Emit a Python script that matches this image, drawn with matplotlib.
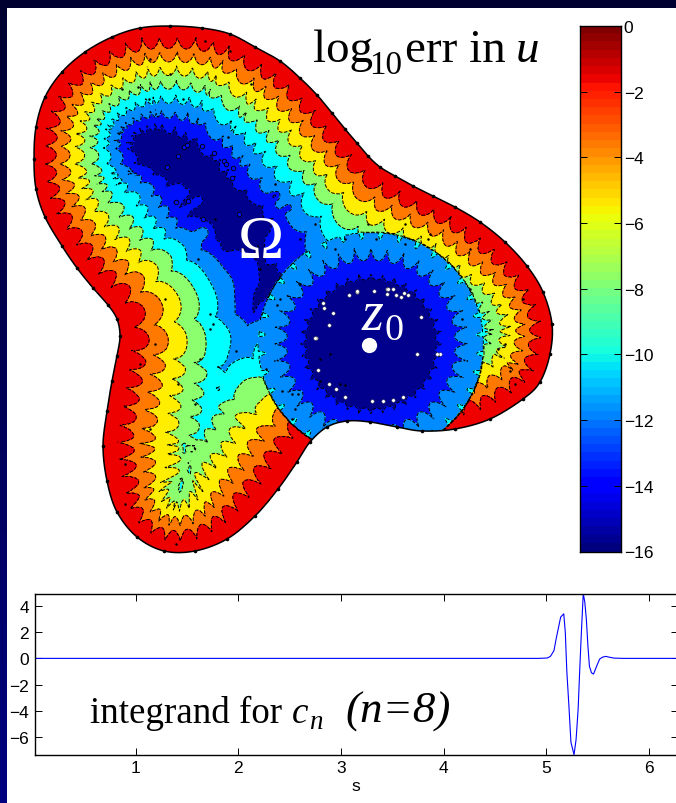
import numpy as np
import matplotlib
matplotlib.use("Agg")
import matplotlib.pyplot as plt
from matplotlib.colors import ListedColormap, BoundaryNorm
from matplotlib.patches import Rectangle
from matplotlib.path import Path

W, H = 676, 804
# ---------- data (pixel coordinates of the map panel) ----------
boundary_x = [140,170,202,230,255,280,300,317,332,345,357,368,380,395,413,433,455,480,505,527,543,552,550,540,523,490,455,422,397,370,347,327,310,297,278,255,227,195,164,137,117,107,103,107,112,117,120,117,108,93,77,62,45,36,34,36,45,62,85,112]
boundary_y = [29,27,29,35,48,62,79,96,114,130,144,157,168,177,187,197,208,223,243,267,293,325,355,383,400,420,430,432,428,423,422,428,443,463,490,517,540,552,552,538,513,482,447,412,382,357,337,320,306,289,269,247,218,190,160,128,98,73,53,38]
# local width (px) of one unit of log10 err
ctrl_x = [170,60,130,300,433,510,495,125,135,185,250,160,240,260,200,215,150,280,90,110,170,470,490,310,280,245,200,210,190,235,268]
ctrl_y = [80,160,140,130,220,320,335,340,470,455,440,525,335,270,215,385,200,490,200,420,510,265,300,190,215,300,340,270,425,410,395]
ctrl_w = [7.0,7.0,6.6,7.4,7.0,7.0,7.6,9.5,10.5,11.5,10.5,6.6,10.5,10.5,8.4,10.5,8.6,11,7.8,9.5,7.0,8.0,7.2,7.3,8.0,9.4,9.7,9.2,10.6,11.5,9.0]
# isolated pockets in the field: x, y, sx, sy, dv
pock_x = [182,200,227,275,288,262,184,190,181,176,236,205,262,240]
pock_y = [190,202,248,197,209,262,448,470,487,203,203,232,238,212]
pock_sx = [10,11,5,5,4,2.2,3,2.5,2.0,3,3,9,1.6,14]
pock_sy = [7,10,4,4,3,16,7,6,8,2,4,9,16,14]
pock_dv = [2.0,2.5,-2.2,-2,-2,-2.5,-2,-2,-2,1.5,1.5,2.0,-2,-1.2]
disc_cx, disc_cy, disc_rx, disc_ry = 371, 345, 113, 112
levels = [-16,-14,-12,-10,-8,-6,-4,-2,0]
band_colors = ['#00008c','#0010fa','#008cff','#00ffff','#8cff6e','#ffee00','#ff7800','#ee0000']
black_x = [150,122,205,138,230,149,170,183,251,228,275,198,243,165,215,300,315,335,345,368,405,430,470,470,300,260,210,155,140,195,125,150,125,213,176,320,330,340,345,292,298,280,277,295,292,210,200,178,236,266,282,320,376,405,428,462,498,505,515,510,523]
black_y = [60,90,42,88,52,100,75,100,85,138,185,260,250,300,220,240,225,250,240,225,245,235,250,290,285,270,315,345,365,405,465,430,505,325,545,360,355,385,386,395,395,300,306,410,420,330,360,385,352,370,392,382,240,225,240,320,350,345,385,372,300]
ring_x = [184,187,178,202,214,224,226,233,167,232,176,188,203,239]
ring_y = [148,146,157,147,154,162,165,169,168,179,203,202,220,215]
white_x = [349,357,357,374,387,393,388,387,396,401,404,408,329,333,316,323,324,315,318,329,336,345,372,383,393,403,421,417,440,437]
white_y = [296,293,292,292,290,290,290,295,296,298,294,296,326,314,339,304,309,339,371,385,390,398,402,402,401,398,318,355,355,355]
bar_ticks = [0,-2,-4,-6,-8,-10,-12,-14,-16]
s_vals = [0.013,1.0,2.0,3.0,4.0,4.93,5.01,5.04,5.075,5.096,5.12,5.14,5.17,5.185,5.20,5.22,5.24,5.27,5.29,5.31,5.325,5.34,5.36,5.375,5.39,5.405,5.42,5.44,5.46,5.49,5.52,5.55,5.58,5.62,5.66,5.75,6.3]
f_vals = [0,0,0,0,0,0,0.03,0.15,0.6,1.5,2.4,3.15,3.4,2.0,-1.0,-3.6,-6.4,-7.35,-6.2,-3.9,-1.0,1.7,4.95,4.3,3.0,1.0,-0.6,-1.1,-1.2,-0.6,-0.05,0.1,0.15,0.08,0.02,0,0]
x_ticks = [1,2,3,4,5,6]
y_ticks = [-6,-4,-2,0,2,4]

plt.rcParams['font.family'] = ['Liberation Sans','DejaVu Sans']
fig = plt.figure(figsize=(W/100, H/100), dpi=100)

# ---------- backdrop ----------
bg = fig.add_axes([0,0,1,1]); bg.axis('off')
top_col = np.array([0,0,48])/255; bot_col = np.array([0,0,128])/255
t = np.linspace(0,1,H)[:,None,None]
bg.imshow(top_col*(1-t)+bot_col*t, extent=(0,W,H,0), aspect='auto', zorder=0)
bg.add_patch(Rectangle((7,9), W-7, H-9, fc='white', ec='none', zorder=1))
bg.set_xlim(0,W); bg.set_ylim(H,0)

# ---------- map ----------
ax = fig.add_axes([0,0,1,1]); ax.axis('off'); ax.patch.set_alpha(0)
ax.set_xlim(0,W); ax.set_ylim(H,0)

def closed_spline(px, py, n=12):
    p = np.c_[px, py].astype(float)
    u = np.linspace(0,1,n,endpoint=False)[:,None]
    out = []
    for i in range(len(p)):
        a,b,c,d = p[i-1],p[i],p[(i+1)%len(p)],p[(i+2)%len(p)]
        out.append(0.5*(2*b+(c-a)*u+(2*a-5*b+4*c-d)*u**2+(3*b-a-3*c+d)*u**3))
    return np.vstack(out)

edge = closed_spline(boundary_x, boundary_y, n=48)
seg = np.hypot(*(np.roll(edge,-1,axis=0)-edge).T)
arc = np.r_[0,np.cumsum(seg)[:-1]]
perim = seg.sum()
n_wave = int(round(perim/19.0))

gx = np.arange(28,560,0.75); gy = np.arange(20,560,0.75)
X,Y = np.meshgrid(gx,gy)
D = np.zeros_like(X); S = np.zeros_like(X)
for j in range(X.shape[0]):
    d2 = (X[j][:,None]-edge[:,0])**2+(Y[j][:,None]-edge[:,1])**2
    k = d2.argmin(axis=1)
    D[j] = np.sqrt(d2[np.arange(len(k)),k]); S[j] = arc[k]
num = np.zeros_like(X); den = np.zeros_like(X)
for cx,cy,cw in zip(ctrl_x,ctrl_y,ctrl_w):
    r = 1/(((X-cx)**2+(Y-cy)**2+150)**1.5)
    num += r*cw; den += r
Wf = num/den

g = np.abs(np.sin(np.pi*n_wave*S/perim))**0.62
amp = 1.7*np.exp(-D/150)+0.2
Dp = D-2.5*(1-np.exp(-D/8))
outer = -Dp/Wf + amp*(g-0.5)
for x0,y0,sx,sy,dv in zip(pock_x,pock_y,pock_sx,pock_sy,pock_dv):
    outer += dv*np.exp(-((X-x0)/sx)**2-((Y-y0)/sy)**2)

Rn = np.hypot((X-disc_cx)/disc_rx,(Y-disc_cy)/disc_ry)
Dd = (1-Rn)*112
th = np.arctan2(Y-disc_cy,X-disc_cx)
gd = np.abs(np.sin(18*th))**0.6
ad = np.clip(2.0-0.031*Dd,0.45,2)*np.clip(Dd/10,0,1)
inner = -10 - Dd/11.2 + ad*(gd-0.5)

F = np.where(Rn<1,inner,outer)
F = np.clip(F,-15.9,-0.02)
mask = ~Path(edge).contains_points(np.c_[X.ravel(),Y.ravel()]).reshape(X.shape)
F = np.ma.array(F,mask=mask)
cmap = ListedColormap(band_colors); norm = BoundaryNorm(levels,cmap.N)
ax.contourf(X,Y,F,levels=levels,cmap=cmap,norm=norm,zorder=2)
ax.contour(X,Y,F,levels=levels[1:-1],colors='k',linewidths=0.7,zorder=3)
loop = np.vstack([edge,edge[:1]])
ax.plot(loop[:,0],loop[:,1],color='k',lw=1.1,zorder=4)
ax.plot(boundary_x,boundary_y,'o',color='k',ms=2.6,mew=0,zorder=5)
ax.plot(black_x,black_y,'o',color='k',ms=1.8,mew=0,zorder=5)
ax.plot(ring_x,ring_y,'o',mfc='#0010fa',mec='k',ms=3.2,mew=0.6,zorder=5)
ax.plot(white_x,white_y,'o',color='w',ms=2.6,mew=0.3,mec='#333333',zorder=5)
ax.plot([369],[346],'o',color='w',ms=11,mew=0,zorder=6)

serif = ['Liberation Serif','DejaVu Serif']
px = 0.72
ax.text(313,62,'log',family=serif,fontsize=47*px,color='k',zorder=7)
ax.text(369,74,'10',family=serif,fontsize=33*px,color='k',zorder=7)
ax.text(405,62,'err in',family=serif,fontsize=47*px,color='k',zorder=7)
ax.text(516,62,'u',family=serif,style='italic',fontsize=47*px,color='k',zorder=7)
ax.text(238,258,'Ω',family=serif,fontsize=62*px,color='w',zorder=7)
ax.text(362,330,'z',family=serif,style='italic',fontsize=56*px,color='w',zorder=7)
ax.text(384,340,'0',family=serif,fontsize=38*px,color='w',zorder=7)

# ---------- colour bar ----------
cb = fig.add_axes([580/W,1-552.5/H,41/W,525.5/H])
cb.set_facecolor('#000080')
cb.imshow(np.linspace(0,1,64)[:,None],cmap='jet',origin='lower',aspect='auto',extent=(0,1,-16,0),vmin=0,vmax=1,interpolation='nearest')
cb.set_xticks([])
cb.set_yticks(bar_ticks)
cb.set_ylim(-16,0)
cb.set_yticklabels([str(v).replace('-','\u2212') for v in bar_ticks],fontsize=12.5)
cb.tick_params(axis='y',direction='in',length=5,width=0.7,right=True,left=True,labelleft=False,labelright=True,pad=2)
for sp in cb.spines.values(): sp.set_linewidth(1.0)

# ---------- integrand ----------
a2 = fig.add_axes([34.5/W,1-755.7/H,643.5/W,161.2/H])
a2.plot(s_vals,f_vals,color='#0000ff',lw=0.8)
a2.set_xlim(0.013,2*np.pi); a2.set_ylim(-7.35,4.95)
a2.set_xticks(x_ticks); a2.set_yticks(y_ticks)
a2.set_yticklabels([str(v).replace('-','\u2212') for v in y_ticks])
a2.tick_params(direction='in',length=5,width=0.7,top=True,right=True,labelsize=12.5,pad=4)
a2.set_xlabel('s',fontsize=12.5,labelpad=2)
for sp in a2.spines.values(): sp.set_linewidth(1.0)
a2.patch.set_alpha(0)

ov = fig.add_axes([0,0,1,1]); ov.axis('off'); ov.patch.set_alpha(0); ov.set_xlim(0,W); ov.set_ylim(H,0)
ov.text(90,723,'integrand for',family=serif,fontsize=37*px,color='k')
ov.text(292,723,'c',family=serif,style='italic',fontsize=37*px,color='k')
ov.text(309,729,'n',family=serif,style='italic',fontsize=27*px,color='k')
ov.text(345,723,'(n=8)',family=serif,style='italic',fontsize=45*px,color='k')

fig.savefig('out.png',dpi=100)
